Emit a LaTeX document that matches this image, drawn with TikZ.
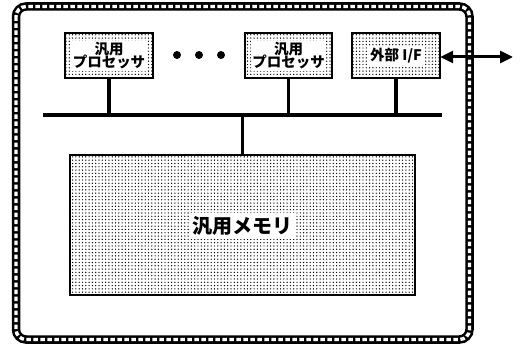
\documentclass[tikz,border=0pt]{standalone}
\usepackage{fontspec}
\setmainfont{Noto Sans CJK JP}
\usetikzlibrary{patterns,arrows.meta}
\pgfdeclarepatternformonly{bigdots}{\pgfqpoint{-1pt}{-1pt}}{\pgfqpoint{1pt}{1pt}}{\pgfqpoint{3.3pt}{3.3pt}}{\pgfpathcircle{\pgfqpoint{0pt}{0pt}}{0.7pt}\pgfusepath{fill}}
\tikzset{
  box/.style={draw, line width=2.6pt, pattern=bigdots, pattern color=black},
  lab/.style={fill=white, inner sep=1.5pt, font=\bfseries\fontsize{14.5}{16}\selectfont, align=center},
  wire/.style={line width=3.2pt},
  dotmark/.style={circle, fill=black, inner sep=0pt, minimum size=8pt},
}
\begin{document}
\begin{tikzpicture}[x=1pt,y=-1pt]
\useasboundingbox (0,0) rectangle (520,345);
% outer frame
\draw[line width=8.5pt, rounded corners=10pt] (16,6.5) rectangle (469.5,339.5);
\draw[line width=3.4pt, white, dash pattern=on 4.5pt off 2.5pt, rounded corners=10pt] (16,6.5) rectangle (469.5,339.5);
% boxes
\path[box] (65,33) rectangle (153,78);
\path[box] (245,33) rectangle (332,78);
\path[box] (352,33) rectangle (440,78);
\path[box] (70,155) rectangle (415,295);
\node[draw=none, minimum width=88pt, minimum height=45pt] (p1) at (109,55.5) {};
\node[draw=none, minimum width=87pt, minimum height=45pt] (p2) at (288.5,55.5) {};
\node[draw=none, minimum width=88pt, minimum height=45pt] (io) at (396,55.5) {};
\node[draw=none, minimum width=345pt, minimum height=140pt] (mem) at (242.5,225) {};
% labels
\node[lab] at (109,56) {汎用\\[-3pt]プロセッサ};
\node[lab] at (288.5,56) {汎用\\[-3pt]プロセッサ};
\node[lab] at (396,56) {外部 I/F};
\node[lab, font=\bfseries\fontsize{20}{22}\selectfont, inner sep=3pt] at (242.5,226) {汎用メモリ};
% dots
\node[dotmark] (d1) at (177,55) {};
\node[dotmark] (d2) at (199,55) {};
\node[dotmark] (d3) at (221,55) {};
% bus
\coordinate (bl) at (43,115);
\coordinate (br) at (442,115);
\draw[wire] (bl) -- (br);
\draw[wire] (p1.south) -- (p1.south |- bl);
\draw[wire] (p2.south) -- (p2.south |- bl);
\draw[wire] (io.south) -- (io.south |- bl);
\draw[wire] (mem.north) -- (mem.north |- bl);
% external arrow
\coordinate (ext) at (513,57);
\draw[line width=3pt, {Triangle[length=13pt,width=12pt]}-{Triangle[length=13pt,width=12pt]}] (io.east |- ext) -- (ext);
\end{tikzpicture}
\end{document}
